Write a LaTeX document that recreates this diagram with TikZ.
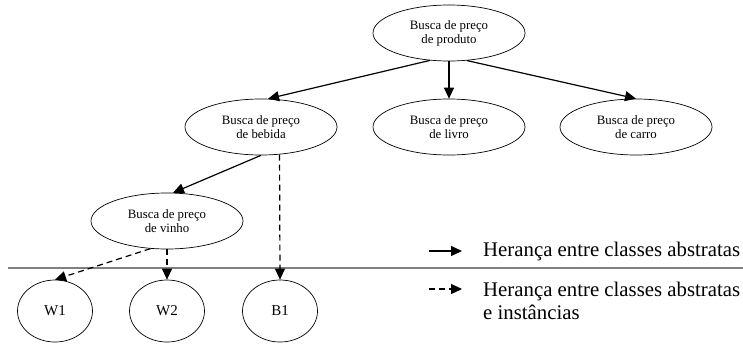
\documentclass[tikz,border=0pt]{standalone}
\usepackage{fontspec}
\setmainfont{Liberation Serif}
\usetikzlibrary{arrows.meta,shapes.geometric}

\begin{document}
\begin{tikzpicture}[x=1pt, y=-1pt,
  classe/.style = {draw, ellipse, line width=0.7pt, inner sep=0pt, minimum width=152pt, minimum height=56pt,
                   align=center, font=\fontsize{12.8}{14}\selectfont},
  inst/.style = {draw, ellipse, line width=0.7pt, inner sep=0pt, minimum width=75pt, minimum height=62pt,
                 font=\fontsize{15}{17}\selectfont},
  heranca/.style = {line width=1.2pt, -{Triangle[length=11pt,width=10pt]}},
  instancia/.style = {heranca, dash pattern=on 6pt off 4pt}]
\useasboundingbox (0,0) rectangle (743,343);

% Classes
\node[classe] (produto) at (449,33) {Busca de preço\\de produto};
\node[classe] (bebida) at (261,127) {Busca de preço\\de bebida};
\node[classe] (livro) at (449,127) {Busca de preço\\de livro};
\node[classe] (carro) at (636,127) {Busca de preço\\de carro};
\node[classe] (vinho) at (167,221) {Busca de preço\\de vinho};

% Instances
\node[inst] (w1) at (55,311) {W1};
\node[inst] (w2) at (167,311) {W2};
\node[inst] (b1) at (280,311) {B1};

% Separator
\draw [line width=1.5pt, gray] (8,268) -- (743,268);

\draw [heranca] (produto.235) -- (bebida.76);
\draw [heranca] (produto.south) -- (livro.north);
\draw [heranca] (produto.303) -- (carro.north);
\draw [heranca] (bebida.south) -- (vinho.78);
\draw [instancia] (bebida.304) -- (b1.north);
\draw [instancia] (vinho.239) -- (w1.north);
\draw [instancia] (vinho.south) -- (w2.north);

% Legend
\node[anchor=west, inner sep=0pt, font=\fontsize{20.8}{23}\selectfont] (leg1) at (483,251) {Herança entre classes abstratas};
\node[anchor=west, inner sep=0pt, align=left, font=\fontsize{20.8}{23}\selectfont] (leg2) at (483,300.5) {Herança entre classes abstratas\\e instâncias};
\coordinate (s1) at (429,251);
\coordinate (e1) at (462,251);
\coordinate (s2) at (429,289);
\coordinate (e2) at (462,289);
\draw [heranca] (s1) -- (e1);
\draw [instancia] (s2) -- (e2);

\end{tikzpicture}
\end{document}
